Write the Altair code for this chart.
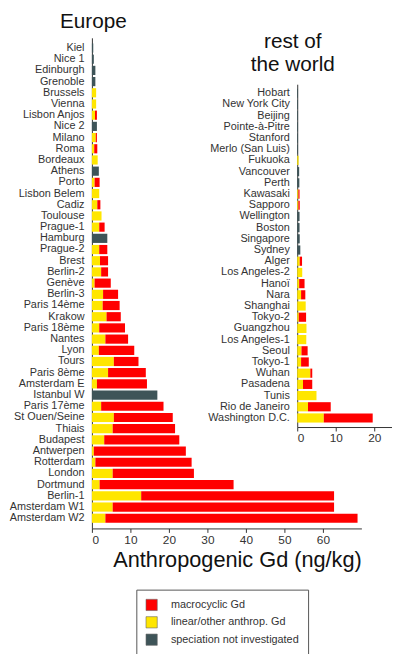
import altair as alt
import pandas as pd

FONT = "Liberation Sans"

# ---------------- data ----------------
eu_sites = ["Kiel", "Nice 1", "Edinburgh", "Grenoble", "Brussels", "Vienna", "Lisbon Anjos",
            "Nice 2", "Milano", "Roma", "Bordeaux", "Athens", "Porto", "Lisbon Belem", "Cadiz",
            "Toulouse", "Prague-1", "Hamburg", "Prague-2", "Brest", "Berlin-2", "Genève",
            "Berlin-3", "Paris 14ème", "Krakow", "Paris 18ème", "Nantes", "Lyon", "Tours",
            "Paris 8ème", "Amsterdam E", "Istanbul W", "Paris 17ème", "St Ouen/Seine", "Thiais",
            "Budapest", "Antwerpen", "Rotterdam", "London", "Dortmund", "Berlin-1",
            "Amsterdam W1", "Amsterdam W2"]
eu_linear = [0, 0, 0, 0, 1.1, 1.1, 0.8, 0, 1.0, 0.6, 1.5, 0, 0.7, 1.9, 1.4,
             2.5, 1.9, 0, 1.9, 2.1, 2.4, 0.7, 2.9, 2.8, 3.8, 1.9, 3.5, 1.8, 5.7,
             4.2, 1.3, 0, 2.4, 5.7, 5.4, 3.2, 0.5, 0.9, 5.4, 2.0, 12.8, 5.4, 3.5]
eu_macro = [0, 0, 0, 0, 0, 0, 0.5, 0, 0.3, 0.8, 0, 0, 1.3, 0, 0.8,
            0, 1.4, 0, 2.1, 2.1, 1.8, 4.2, 3.9, 4.4, 3.7, 6.7, 5.9, 9.2, 6.4,
            9.8, 13.0, 0, 16.2, 15.3, 16.2, 19.5, 23.9, 25.0, 21.1, 34.8, 50.1, 57.5, 65.5]
eu_unspec = [0.35, 0.5, 0.9, 0.9, 0, 0, 0, 1.3, 0, 0, 0, 1.8, 0, 0, 0,
             0, 0, 4.0, 0, 0, 0, 0, 0, 0, 0, 0, 0, 0, 0,
             0, 0, 17.0, 0, 0, 0, 0, 0, 0, 0, 0, 0, 0, 0]

world_sites = ["Hobart", "New York City", "Beijing", "Pointe-à-Pitre", "Stanford",
               "Merlo (San Luis)", "Fukuoka", "Vancouver", "Perth", "Kawasaki", "Sapporo",
               "Wellington", "Boston", "Singapore", "Sydney", "Alger", "Los Angeles-2", "Hanoï",
               "Nara", "Shanghai", "Tokyo-2", "Guangzhou", "Los Angeles-1", "Seoul", "Tokyo-1",
               "Wuhan", "Pasadena", "Tunis", "Rio de Janeiro", "Washington D.C."]
world_linear = [0, 0, 0, 0, 0, 0, 0.35, 0, 0, 0.3, 0.3, 0, 0, 0, 0, 0.65, 1.3, 0.5,
                1.0, 2.2, 0.4, 2.4, 2.35, 1.1, 1.0, 3.4, 1.5, 5.0, 2.8, 6.9]
world_macro = [0, 0, 0, 0, 0, 0, 0, 0, 0, 0.3, 0.35, 0, 0, 0, 0, 0.6, 0, 1.4,
               1.1, 0, 1.9, 0, 0, 1.6, 2.0, 0.5, 2.4, 0, 5.9, 12.7]
world_unspec = [0.2, 0.2, 0.2, 0.2, 0.2, 0.2, 0, 0.5, 0.55, 0, 0, 0.6, 0.6, 0.65, 0.8, 0, 0, 0,
                0, 0, 0, 0, 0, 0, 0, 0, 0, 0, 0, 0]

types = ["macrocyclic Gd", "linear/other anthrop. Gd", "speciation not investigated"]
colors = ["#FF0000", "#FFE600", "#3E5458"]


def to_long(sites, lin, mac, uns):
    rows = []
    for s, a, b, c in zip(sites, lin, mac, uns):
        for t, v, o in ((types[1], a, 0), (types[0], b, 1), (types[2], c, 2)):
            if v > 0:
                rows.append({"site": s, "type": t, "value": v, "ord": o})
    return pd.DataFrame(rows)


df_eu = to_long(eu_sites, eu_linear, eu_macro, eu_unspec)
df_world = to_long(world_sites, world_linear, world_macro, world_unspec)

# ---------------- layout ----------------
W, H = 273, 497
PAD_IN = 0.18
step = H / (len(eu_sites) - PAD_IN + 1.0)
w_top = 47
w_bottom = w_top + step * (len(world_sites) - PAD_IN + 0.8)
w_x0 = 208
w_px = W / 70.0
w_dom = 24.5
w_x1 = w_x0 + w_dom * w_px

color = alt.Color(
    "type:N",
    scale=alt.Scale(domain=types, range=colors),
    legend=alt.Legend(
        title=None, orient="none", legendX=45, legendY=559,
        symbolType="square", symbolSize=130, symbolStrokeColor="#666", symbolStrokeWidth=0.6,
        labelFontSize=11, labelColor="#333", labelFont=FONT, labelOffset=13,
        rowPadding=2.6, padding=9, strokeColor="#555", fillColor="white",
    ),
)

eu = alt.Chart(df_eu).mark_bar().encode(
    x=alt.X(
        "value:Q", stack="zero",
        scale=alt.Scale(domain=[0, 70], nice=False),
        axis=alt.Axis(
            values=[0, 10, 20, 30, 40, 50, 60], title="Anthropogenic Gd (ng/kg)",
            titleX=147, titleY=38.5, titleAlign="center", titleBaseline="alphabetic",
            titleFontSize=22, tickSize=4, labelPadding=2, labelFontSize=12,
        ),
    ),
    y=alt.Y(
        "site:N", sort=eu_sites,
        scale=alt.Scale(paddingInner=PAD_IN, paddingOuter=0.5),
        axis=alt.Axis(
            title="Europe", titleAngle=0, titleX=1, titleY=-10, titleAlign="center",
            titleBaseline="alphabetic", titleFontSize=21, ticks=False, labelPadding=8,
            labelFontSize=11,
        ),
    ),
    color=color,
    order=alt.Order("ord:Q"),
)

world = alt.Chart(df_world).mark_bar().encode(
    x=alt.X(
        "value:Q", stack="zero",
        scale=alt.Scale(domain=[0, w_dom], range=[w_x0, w_x1], nice=False),
        axis=alt.Axis(
            orient="bottom", offset=-(H - w_bottom), values=[0, 10, 20], title=None,
            tickSize=4, labelPadding=2, labelFontSize=12,
        ),
    ),
    y=alt.Y(
        "site:N", sort=world_sites,
        scale=alt.Scale(paddingInner=PAD_IN, paddingOuter=0.4, range=[w_top, w_bottom]),
        axis=alt.Axis(
            orient="left", offset=-w_x0, title=["rest of", "the world"], titleAngle=0,
            titleX=-5, titleY=10, titleAlign="center", titleBaseline="alphabetic",
            titleFontSize=21, titleLineHeight=23.5, ticks=False, labelPadding=8,
            labelFontSize=11,
        ),
    ),
    color=color,
    order=alt.Order("ord:Q"),
)

chart = (
    alt.layer(eu, world)
    .resolve_scale(x="independent", y="independent")
    .properties(
        width=W, height=H,
        autosize=alt.AutoSizeParams(type="none"),
        padding={"left": 85, "top": 26, "right": 31, "bottom": 123},
    )
    .configure_view(stroke=None)
    .configure_axis(
        grid=False, domainColor="#333", tickColor="#333", labelColor="#333",
        labelFont=FONT, titleFont=FONT, titleFontWeight="normal", titleColor="#111",
    )
)

chart.save("out.html", embed_options={"renderer": "svg", "actions": False})
